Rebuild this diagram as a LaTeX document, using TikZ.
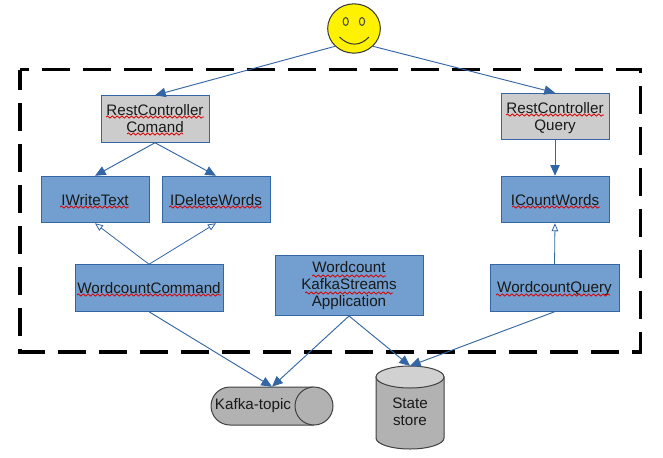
\documentclass[tikz,border=0pt]{standalone}
\usepackage{fontspec}
\setmainfont{Liberation Sans}
\usetikzlibrary{arrows.meta,decorations.pathmorphing,calc,shapes.geometric}
\definecolor{lineblue}{HTML}{3465A4}
\definecolor{boxblue}{HTML}{729FCF}
\definecolor{boxgray}{HTML}{CCCCCC}
\definecolor{cylgray}{HTML}{B2B2B2}
\definecolor{cyltop}{HTML}{D1D1D1}
\newcommand{\shifted}[2]{\raisebox{#1}[\height][\depth]{#2}}
\tikzset{
  x=0.75pt,y=-0.75pt,
  txt/.style={font=\fontsize{11.4pt}{13pt}\selectfont,align=center,text=black!90},
  bluebox/.style={txt,draw=lineblue,fill=boxblue,line width=0.75pt,minimum width=#1*0.75pt,inner sep=0pt,minimum height=46.5*0.75pt},
  graybox/.style={bluebox=108,fill=boxgray},
  link/.style={draw=lineblue,line width=0.7pt,-{Triangle[length=8pt,width=7pt,fill=lineblue]}},
  inherit/.style={draw=lineblue,line width=0.6pt,-{Triangle[open,length=6pt,width=5pt,fill=white]}},
  squig/.style={draw=red!85!black,line width=0.6pt,decorate,decoration={snake,amplitude=0.8pt,segment length=3.6pt}},
  frame/.style={draw=black,line width=2.3pt,dash pattern=on 21pt off 9.75pt,dash phase=14.25pt},
  cyl/.style={draw=black!75,line width=0.75pt,fill=cylgray},
  anchorbox/.style={inner sep=0pt,txt}
}
\begin{document}
\begin{tikzpicture}
\useasboundingbox (0,0) rectangle (663,457);
% frame
\draw[frame] (20,69.7) -- (640.4,69.7) -- (640.4,352) -- (20,352) -- cycle;
% cylinders
\draw[cyl] (230,387) -- (314,387) arc[start angle=-90,end angle=90,x radius=19,y radius=19] -- (230,425) arc[start angle=90,end angle=270,x radius=19,y radius=19] -- cycle;
\draw[cyl] (314,387) arc[start angle=270,end angle=90,x radius=19,y radius=19];
\draw[cyl] (376,377) -- (376,438) arc[start angle=180,end angle=0,x radius=34,y radius=11] -- (444,377) -- cycle;
\draw[cyl,fill=cyltop] (410,377) ellipse[x radius=34,y radius=11];
\node[anchorbox,minimum width=91.5pt,minimum height=28.5pt] (kafka) at (272,406) {};
\node[anchorbox,minimum width=51pt,minimum height=62pt] (store) at (410,407.5) {};
\node[txt] (kafkatext) at (253,406) {Kafka-topic};
\node[txt] (storetext) at (410,412) {State\\store};
% face
\node[ellipse,draw=black!80,fill=yellow,line width=0.75pt,minimum width=39.5pt,minimum height=37pt,inner sep=0pt] (smile) at (354,28.5) {};
\draw[draw=black!70,line width=0.8pt] (345.7,21.5) ellipse[x radius=2.6,y radius=4];
\draw[draw=black!70,line width=0.8pt] (362,21.5) ellipse[x radius=2.6,y radius=4];
\draw[draw=black!80,line width=0.75pt] (339.5,37) .. controls (349,46.5) and (360,46.5) .. (369,37);
% boxes
\node[graybox] (cmd) at (155,119) {\shifted{0.5pt}{RestController}\\\shifted{0.5pt}{Comand}};
\node[graybox] (rq) at (555,116.5) {\shifted{-1pt}{RestController}\\\shifted{-1pt}{Query}};
\node[bluebox=108] (iwrite) at (95,199.5) {\shifted{-0.6pt}{IWriteText}};
\node[bluebox=108] (idel) at (216,199.5) {\shifted{-0.6pt}{IDeleteWords}};
\node[bluebox=108] (icount) at (555,199.5) {\shifted{-0.6pt}{ICountWords}};
\node[bluebox=148] (wc) at (149,288) {WordcountCommand};
\node[bluebox=129] (wq) at (554.5,288) {\shifted{-0.4pt}{WordcountQuery}};
\node[bluebox=148,minimum height=45pt] (app) at (349,285.5) {Wordcount\\KafkaStreams\\Application};
% squiggles
\draw[squig] (106,117) -- (204,117);
\draw[squig] (127,134) -- (183,134);
\draw[squig] (506,115) -- (604,115);
\draw[squig] (60,207) -- (129,207);
\draw[squig] (169,207) -- (262,207);
\draw[squig] (512,207) -- (600,207);
\draw[squig] (77,295) -- (221,295);
\draw[squig] (496,295) -- (610,295);
\draw[squig] (312,276) -- (386,276);
\draw[squig] (305,293) -- (393,293);
% connectors
\draw[link] (smile.south west) -- (cmd.north);
\draw[link] (smile.south east) -- (rq.north);
\draw[link] (cmd.south) -- (iwrite.north);
\draw[link] (cmd.south) -- (idel.north);
\draw[link] (rq.south) -- (icount.north);
\draw[inherit] (wc.north) -- (iwrite.south);
\draw[inherit] (wc.north) -- (idel.south);
\draw[inherit] (wq.north) -- (icount.south);
\draw[link] (wc.south) -- (kafka.north);
\draw[link] (app.south) -- (kafka.north);
\draw[link] (app.south) -- (store.north);
\draw[link] (wq.south) -- (store.north);
\end{tikzpicture}
\end{document}
